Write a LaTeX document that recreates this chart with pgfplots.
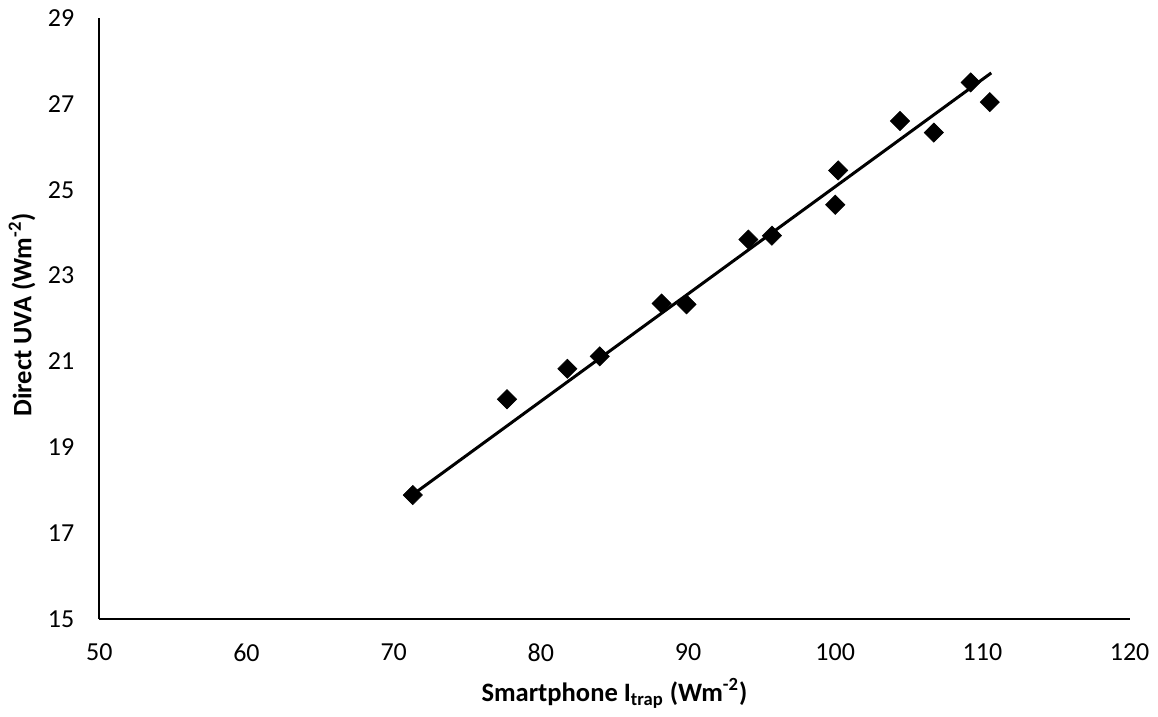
\documentclass[border=0pt]{standalone}
\usepackage{pgfplots}
\pgfplotsset{compat=1.18}
\usepackage{fontspec}
\setmainfont{Carlito}
\begin{document}
\fontsize{13}{15}\selectfont
\begin{tikzpicture}
\path (-49.2pt,-49pt) rectangle (529.8pt,310pt);
\begin{axis}[
  scale only axis,
  width=515.9pt, height=301pt,
  xmin=50, xmax=120, ymin=15, ymax=29,
  xtick={50,60,...,120}, ytick={15,17,...,29},
  axis x line=bottom, axis y line=left,
  axis line style={-, line width=1pt, black},
  major tick length=0pt,
  /pgf/number format/assume math mode=true,
  ticklabel style={font=\fontsize{13}{15}\selectfont},
  xticklabel style={yshift=-8pt},
  yticklabel style={xshift=-8pt},
  xlabel={\bfseries Smartphone I\textsubscript{trap} (Wm\textsuperscript{-2})},
  ylabel={\bfseries Direct UVA (Wm\textsuperscript{-2})},
  xlabel style={font=\fontsize{13.3}{15}\selectfont, at={(axis description cs:0.5,0)}, anchor=base, yshift=-41pt},
  ylabel style={font=\fontsize{13.3}{15}\selectfont, at={(axis description cs:-0.066,0.506)}, anchor=base},
  clip=false,
]
\addplot[black, line width=1.5pt, no marks] coordinates {(71.3,17.90) (110.6,27.72)};
\addplot[only marks, mark=square*, mark size=3.4pt, mark options={rotate=45, fill=black, draw=black, line width=0.3pt}] coordinates {
(71.3,17.89)
(77.7,20.12)
(81.8,20.83)
(84.0,21.12)
(88.2,22.35)
(89.9,22.33)
(94.1,23.84)
(95.7,23.93)
(100.2,25.45)
(100.0,24.65)
(104.4,26.60)
(106.7,26.33)
(109.2,27.50)
(110.5,27.04)
};
\end{axis}
\end{tikzpicture}
\end{document}
